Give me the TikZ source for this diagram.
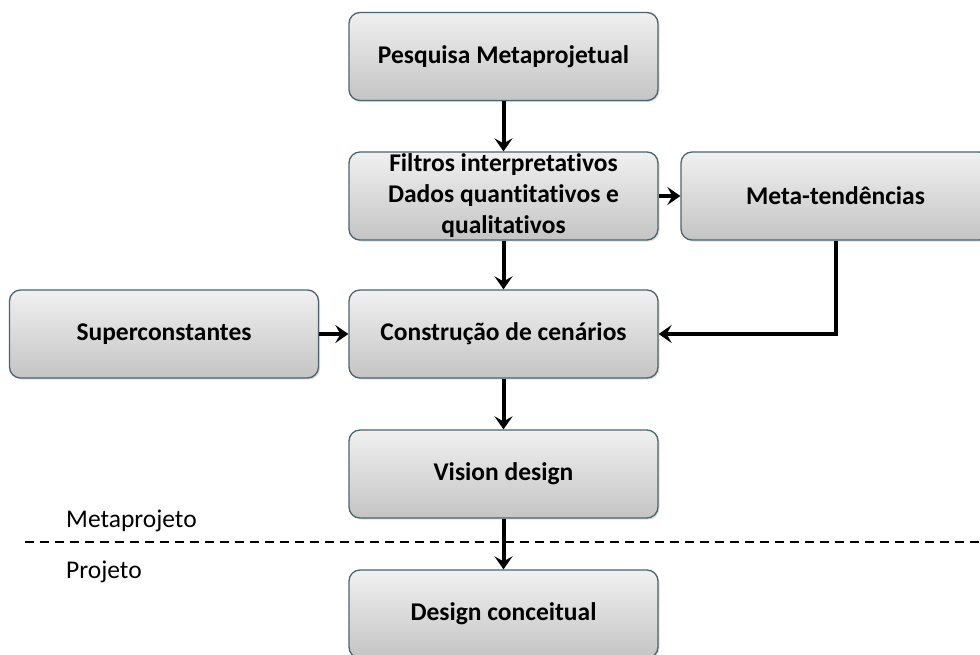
\documentclass[tikz,border=0pt]{standalone}
\usepackage{fontspec}
\setmainfont[Ligatures=NoCommon]{Carlito}
\usetikzlibrary{arrows.meta,shadows}
\definecolor{boxedge}{HTML}{4A6470}
\definecolor{boxtop}{HTML}{F0F0F0}
\definecolor{boxbottom}{HTML}{C4C4C4}
\tikzset{
  x=1pt, y=-1pt,
  stage/.style={draw=boxedge, line width=1.3pt, rounded corners=11pt,
    top color=boxtop, bottom color=boxbottom,
    minimum width=309pt, minimum height=88pt, align=center,
    inner sep=2pt,
    font=\fontsize{25.5}{31}\selectfont\bfseries, text=black,
    drop shadow={shadow xshift=1.5pt, shadow yshift=-1.5pt, opacity=0.25}},
  flow/.style={line width=4pt, black,
    -{Stealth[length=13pt,width=18pt,inset=5pt]}},
  phase/.style={font=\fontsize{25.5}{30}\selectfont, text=black, anchor=west,
    inner sep=0pt},
}
\begin{document}
\begin{tikzpicture}
  \path[use as bounding box] (0,0) rectangle (980,654);
  \clip (0,0) rectangle (980,654);
  \fill[white] (0,0) rectangle (980,654);

  % process stages
  \node[stage] (pesq)   at (503.5,56.5) {Pesquisa Metaprojetual};
  \node[stage] (filt)   at (503.5,196)  {Filtros interpretativos\\Dados quantitativos e\\qualitativos};
  \node[stage] (meta)   at (835.5,196)  {Meta-tendências};
  \node[stage] (super)  at (164,334)    {Superconstantes};
  \node[stage] (constr) at (503.5,334)  {Construção de cenários};
  \node[stage] (vision) at (503.5,474)  {Vision design};
  \node[stage] (design) at (503.5,614)  {Design conceitual};

  % boundary between the two phases
  \coordinate (lineL) at (25,542);
  \coordinate (lineR) at (980,542);
  \draw[line width=2pt, dash pattern=on 9pt off 6pt] (lineL) -- (lineR);
  \node[phase] (metaproj) at (66,521) {Metaprojeto};
  \node[phase] (proj)     at (66,572) {Projeto};

  % connectors
  \draw[flow] (pesq) -- (filt);
  \draw[flow] (filt) -- (meta);
  \draw[flow] (filt) -- (constr);
  \draw[flow] (super) -- (constr);
  \draw[flow] (meta.south) |- (constr.east);
  \draw[flow] (constr) -- (vision);
  \draw[flow] (vision) -- (design);
\end{tikzpicture}
\end{document}
